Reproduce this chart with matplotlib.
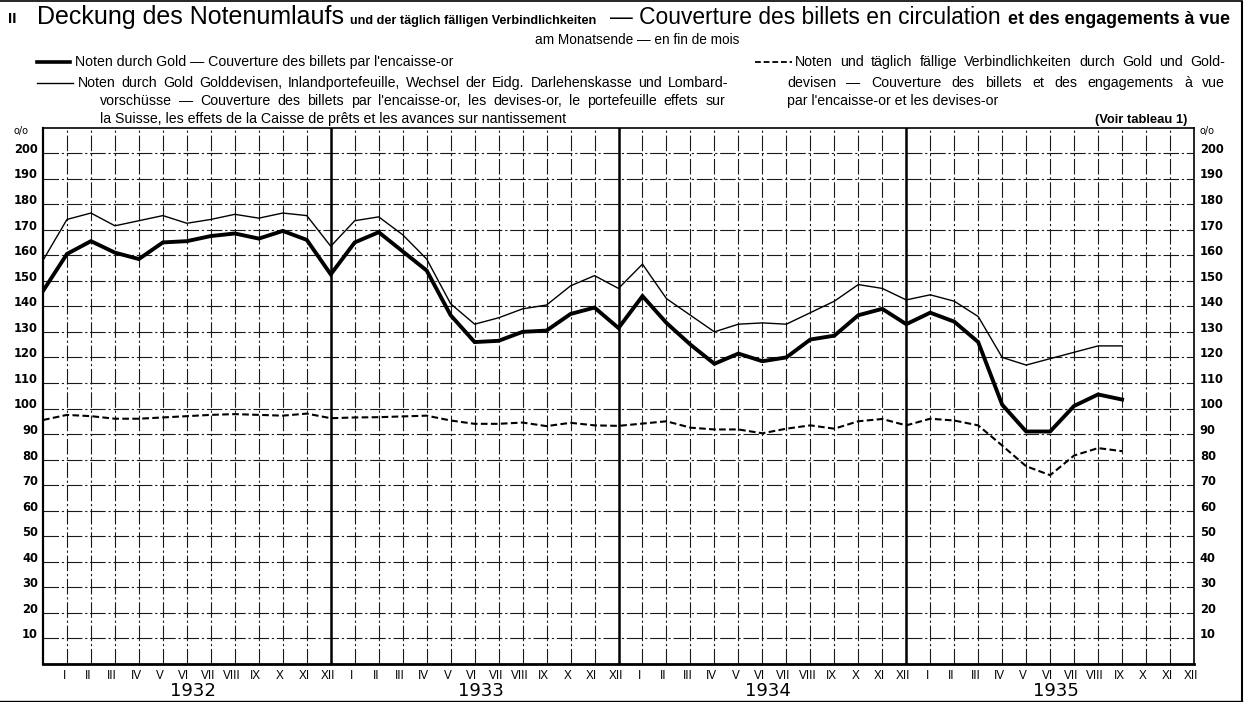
import matplotlib
matplotlib.use('Agg')
import matplotlib.pyplot as plt
from matplotlib.lines import Line2D

# ---------------- data (monthly, end of month; index 0 = XII 1931) ----------------
months_roman = ['I', 'II', 'III', 'IV', 'V', 'VI', 'VII', 'VIII', 'IX', 'X', 'XI', 'XII']
years = ['1932', '1933', '1934', '1935']
yticks = list(range(10, 201, 10))

gold = [146, 160.5, 165.5, 161, 158.5, 165, 165.5, 167.5, 168.5, 166.5, 169.5, 166,
        152.5, 165, 169, 161.5, 154, 136.5, 126, 126.5, 130, 130.5, 137, 139.5,
        131.5, 144, 133.5, 125, 117.5, 121.5, 118.5, 120, 127, 128.5, 136.5, 139,
        133, 137.5, 134, 126, 101.5, 91, 91, 101, 105.5, 103.5]

gold_devisen_portef = [158, 174, 176.5, 171.5, 173.5, 175.5, 172.5, 174, 176, 174.5, 176.5, 175.5,
                       163.5, 173.5, 175, 168, 158.5, 141, 133, 135.5, 139, 140.5, 148, 152,
                       147, 156.5, 143, 136.5, 130, 133, 133.5, 133, 137.5, 142, 148.5, 147,
                       142.5, 144.5, 142, 136, 120, 117, 119.5, 122, 124.5, 124.5]

notes_sight_gold_dev = [95.5, 97.5, 97, 96, 96, 96.5, 97, 97.5, 97.8, 97.5, 97.2, 98,
                        96.2, 96.5, 96.6, 96.9, 97.2, 95.3, 94, 94, 94.5, 93.1, 94.4, 93.4,
                        93.2, 94.1, 95, 92.5, 91.8, 91.8, 90.3, 92.1, 93.4, 92.1, 95, 95.9,
                        93.4, 96, 95.3, 93.4, 85.5, 77.4, 73.9, 81.6, 84.5, 83.3]

# ---------------- figure ----------------
W, H = 1249, 702
fig = plt.figure(figsize=(W / 100, H / 100), dpi=100)
fig.patch.set_facecolor('white')

x_left, x_right, y_top, y_bot = 43, 1194, 128, 664
ax = fig.add_axes([x_left / W, 1 - y_bot / H, (x_right - x_left) / W, (y_bot - y_top) / H])
n_months = 48
ax.set_xlim(0, n_months)
ymax = (y_bot - y_top) / 2.555
ax.set_ylim(0, ymax)
ax.set_xticks([])
ax.set_yticks([])
for s in ax.spines.values():
    s.set_color('black')
    s.set_linewidth(1.2)
ax.spines['bottom'].set_linewidth(2.0)
ax.spines['left'].set_linewidth(1.6)

grid_ls = (0, (14, 2.5, 2, 2.5))
for v in yticks:
    ax.axhline(v, color='#1a1a1a', lw=0.8, ls=grid_ls, zorder=1)
for m in range(1, n_months):
    if m % 12 == 0:
        ax.axvline(m, color='black', lw=1.8, zorder=1)
    else:
        ax.axvline(m, color='#1a1a1a', lw=0.8, ls=grid_ls, zorder=1)

ax.plot(list(range(len(gold))), gold, color='black', lw=2.8, solid_joinstyle='miter', zorder=4)
ax.plot(list(range(len(gold_devisen_portef))), gold_devisen_portef, color='black', lw=1.0, zorder=4)
ax.plot(list(range(len(notes_sight_gold_dev))), notes_sight_gold_dev, color='black', lw=1.5,
        ls=(0, (3.2, 1.6)), zorder=4)

# y tick labels (both sides)
num_font = dict(family='DejaVu Sans', fontsize=8.3, fontweight='bold')
for v in yticks:
    ax.text(-0.0045, v + 1.4, str(v), transform=ax.get_yaxis_transform(), ha='right',
            va='center', **num_font)
    ax.text(1.005, v + 1.4, str(v), transform=ax.get_yaxis_transform(), ha='left',
            va='center', **num_font)
fig.text(14 / W, 1 - 131 / H, 'o/o', fontsize=7, family='DejaVu Sans', va='center')
fig.text(1200 / W, 1 - 131 / H, 'o/o', fontsize=7, family='DejaVu Sans', va='center')

# month labels
mfont = dict(family=['Liberation Sans Narrow', 'Liberation Sans'], fontsize=8.5)
for i in range(n_months):
    fig.text((x_left + (i + 1 - 0.12) * (x_right - x_left) / n_months) / W, 1 - 676 / H,
             months_roman[i % 12], ha='center', va='center', **mfont)
for k, yr in enumerate(years):
    fig.text((x_left + (12 * k + 6.25) * (x_right - x_left) / n_months) / W, 1 - 696 / H, yr,
             ha='center', va='baseline', family='DejaVu Sans', fontsize=13)

# ---------------- header texts ----------------
renderer = fig.canvas.get_renderer()
FAM = ['Liberation Sans', 'DejaVu Sans']


def put(x, y, s, size, width=None, **kw):
    kw.setdefault('family', FAM)
    t = fig.text(x / W, 1 - y / H, s, fontsize=size, va='baseline', **kw)
    if width is not None:
        bb = t.get_window_extent(renderer)
        t.set_fontsize(size * width / bb.width)
    return t


def justify(x0, x1, y, s, size, min_gap=3.5, **kw):
    kw.setdefault('family', FAM)
    words = s.split()
    arts = [fig.text(0, 1 - y / H, w, fontsize=size, va='baseline', **kw) for w in words]
    widths = [a.get_window_extent(renderer).width for a in arts]
    gap = max((x1 - x0 - sum(widths)) / max(len(words) - 1, 1), min_gap)
    x = x0
    for a, w in zip(arts, widths):
        a.set_x(x / W)
        x += w + gap


put(8, 23, 'II', 11, fontweight='bold')
put(37, 24, 'Deckung des Notenumlaufs', 16, width=308)
put(350, 24, 'und der täglich fälligen Verbindlichkeiten', 8, width=248,
    family=['Liberation Sans Narrow', 'Liberation Sans'], fontweight='bold')
put(610, 24, '— Couverture des billets en circulation', 16, width=390)
put(1008, 24, 'et des engagements à vue', 8, width=222,
    family=['Liberation Sans Narrow', 'Liberation Sans'], fontweight='bold')
put(535, 44, 'am Monatsende — en fin de mois', 9.8)

LF = 10.2
put(75, 66, "Noten durch Gold — Couverture des billets par l'encaisse-or", LF)
justify(78, 728, 87, 'Noten durch Gold Golddevisen, Inlandportefeuille, Wechsel der Eidg. Darlehenskasse und Lombard-', LF)
justify(100, 725, 105, "vorschüsse — Couverture des billets par l'encaisse-or, les devises-or, le portefeuille effets sur", LF)
put(100, 123, 'la Suisse, les effets de la Caisse de prêts et les avances sur nantissement', LF)
justify(795, 1225, 66, 'Noten und täglich fällige Verbindlichkeiten durch Gold und Gold-', LF)
justify(787, 1225, 87, 'devisen — Couverture des billets et des engagements à vue', LF)
put(787, 105, "par l'encaisse-or et les devises-or", LF)
put(1095, 123, '(Voir tableau 1)', LF, width=93, fontweight='bold')

# legend samples
fig.add_artist(Line2D([37 / W, 70 / W], [1 - 62 / H] * 2, color='black', lw=2.6))
fig.add_artist(Line2D([37 / W, 73 / W], [1 - 83 / H] * 2, color='black', lw=1.0))
fig.add_artist(Line2D([755 / W, 792 / W], [1 - 62 / H] * 2, color='black', lw=1.3, ls=(0, (3.2, 1.6))))

# outer frame
fig.add_artist(Line2D([1242 / W, 1242 / W], [1 - 2 / H, 1 - 700 / H], color='black', lw=1.5))
fig.add_artist(Line2D([0, 1242 / W], [1 - 1 / H] * 2, color='black', lw=1.2))
fig.add_artist(Line2D([0, 1242 / W], [1 - 700.5 / H] * 2, color='black', lw=1.0))

fig.savefig('out.png', dpi=100, facecolor='white')
